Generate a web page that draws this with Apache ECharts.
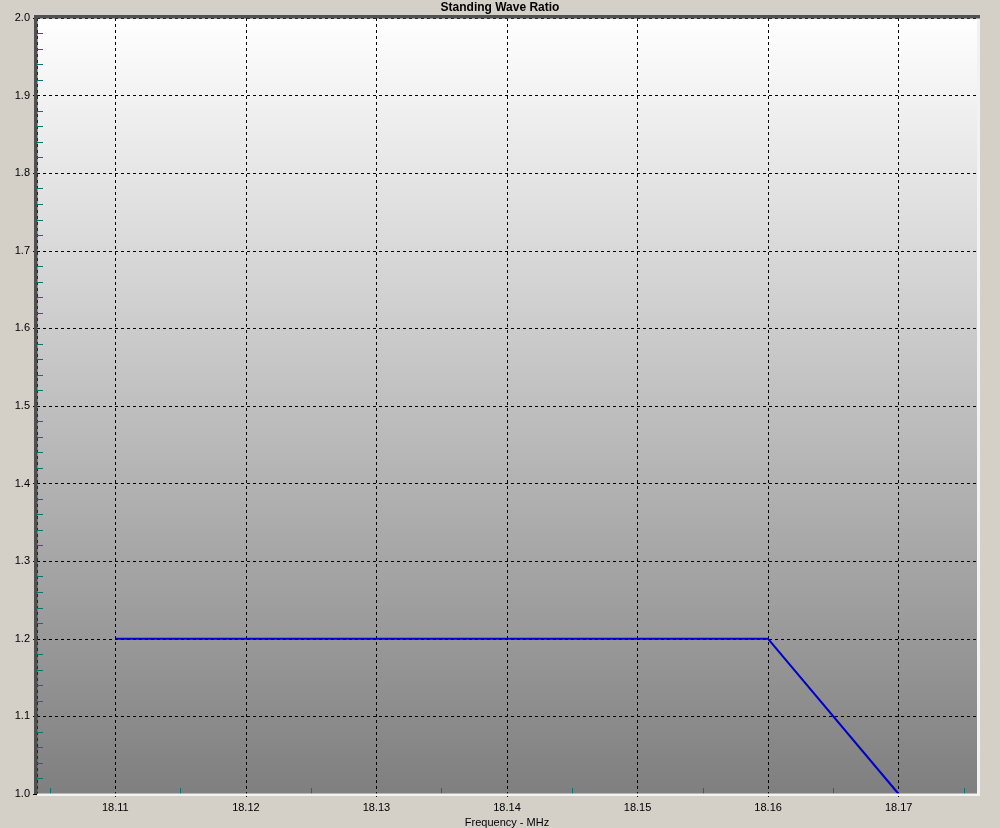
<!DOCTYPE html>
<html>
<head>
<meta charset="utf-8">
<script src="https://cdn.jsdelivr.net/npm/echarts@6/dist/echarts.min.js"></script>
<style>
html,body{margin:0;padding:0;background:#d4d0c8;}
#chart{width:1000px;height:828px;}
</style>
</head>
<body>
<div id="chart"></div>
<script>
// Data
const frequencies = [18.11, 18.12, 18.13, 18.14, 18.15, 18.16, 18.17];
const swrValues   = [1.2, 1.2, 1.2, 1.2, 1.2, 1.2, 1.0];
const chartTitle = 'Standing Wave Ratio';
const xAxisName = 'Frequency - MHz';
const xMin = 18.104, xMax = 18.176;
const yMin = 1.0, yMax = 2.0, yStep = 0.1;

const FONT = '"Liberation Sans", Arial, sans-serif';
const chart = echarts.init(document.getElementById('chart'), null, {renderer: 'canvas'});

const G = {left: 37, top: 18, right: 23, bottom: 34};
const W = 1000, H = 828;

chart.setOption({
  backgroundColor: '#d4d0c8',
  animation: false,
  title: {
    text: chartTitle, left: 'center', top: 1, padding: 0,
    textStyle: {fontFamily: FONT, fontSize: 12, fontWeight: 'bold', color: '#000', lineHeight: 14}
  },
  grid: {
    left: G.left, top: G.top, right: G.right, bottom: G.bottom,
    outerBoundsMode: 'none', containLabel: false,
    show: true, borderWidth: 0,
    backgroundColor: new echarts.graphic.LinearGradient(0, 0, 0, 1, [
      {offset: 0, color: '#ffffff'}, {offset: 1, color: '#7f7f7f'}
    ])
  },
  xAxis: [{
    type: 'value', min: xMin, max: xMax, splitNumber: 7,
    name: xAxisName, nameLocation: 'middle', nameGap: 20,
    nameTextStyle: {fontFamily: FONT, fontSize: 11, color: '#000'},
    axisLine: {show: false},
    axisTick: {show: true, length: 6, lineStyle: {color: '#000', type: [3, 3]}},
    axisLabel: {fontFamily: FONT, fontSize: 11, color: '#000', margin: 8,
      showMinLabel: false, showMaxLabel: false,
      formatter: v => (Math.abs(v - Math.round(v * 100) / 100) < 1e-6 ? v.toFixed(2) : '')},
    splitLine: {show: true, lineStyle: {color: '#000', width: 1, type: [3, 3]}}
  }, {
    type: 'value', min: xMin, max: xMax, splitNumber: 7, position: 'bottom',
    axisLine: {show: false},
    axisTick: {show: false, inside: true},
    axisLabel: {show: false},
    splitLine: {show: false},
    minorTick: {show: true, splitNumber: 2, length: 6, lineStyle: {color: '#007878', width: 1}}
  }],
  yAxis: [{
    type: 'value', min: yMin, max: yMax, interval: yStep,
    axisLine: {show: false},
    axisTick: {show: true, length: 4, lineStyle: {color: '#000'}},
    axisLabel: {fontFamily: FONT, fontSize: 11, color: '#000', margin: 7,
      formatter: v => v.toFixed(1)},
    splitLine: {show: true, lineStyle: {color: '#000', width: 1, type: [3, 3]}}
  }, {
    type: 'value', min: yMin, max: yMax, interval: yStep, position: 'left',
    axisLine: {show: false},
    axisTick: {show: false, inside: true},
    axisLabel: {show: false},
    splitLine: {show: false},
    minorTick: {show: true, splitNumber: 5, length: 6, lineStyle: {color: '#007878', width: 1}}
  }],
  series: [{
    type: 'line',
    data: frequencies.map((f, i) => [f, swrValues[i]]),
    showSymbol: false, symbol: 'none',
    lineStyle: {color: '#0000cc', width: 2},
    z: 5
  }],
  graphic: [
    {type: 'rect', z: 50, shape: {x: 34, y: 15, width: 3.5, height: 779}, style: {fill: '#505050'}},
    {type: 'rect', z: 50, shape: {x: 34, y: 15, width: 946, height: 3.5}, style: {fill: '#505050'}},
    {type: 'rect', z: 49, shape: {x: W - G.right, y: 15, width: 3, height: 781}, style: {fill: '#f2f2f2'}},
    {type: 'rect', z: 49, shape: {x: 37, y: H - G.bottom - 0.5, width: 943, height: 2.5}, style: {fill: '#f2f2f2'}}
  ]
});
</script>
</body>
</html>
